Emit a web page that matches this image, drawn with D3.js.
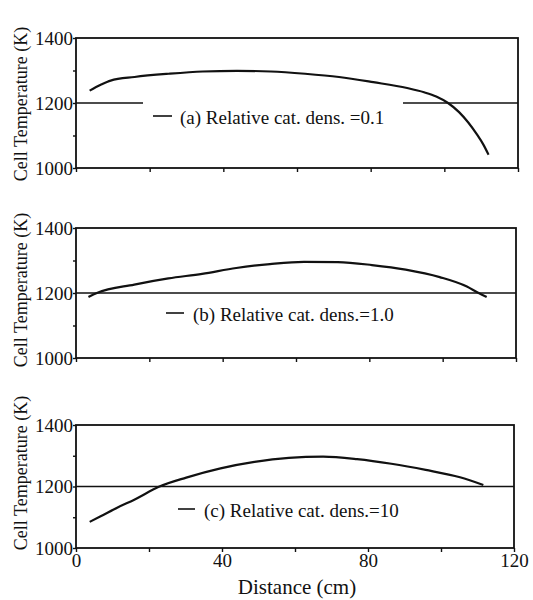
<!DOCTYPE html>
<html><head><meta charset="utf-8">
<script src="https://cdn.jsdelivr.net/npm/d3@7"></script>
<style>
body{margin:0;background:#fff;}
text{font-family:"Liberation Serif","Times New Roman",serif;fill:#111;}
</style></head>
<body><svg id="c" width="533" height="600"></svg>
<script>
// ---- data ----
const xTickValues = [0, 20, 40, 60, 80, 100, 120];
const xTickLabels = ["0", "", "40", "", "80", "", "120"];
const yTickValues = [1000, 1100, 1200, 1300, 1400];
const yTickLabels = ["1000", "", "1200", "", "1400"];
const panelLabels = ["(a) Relative cat. dens. =0.1", "(b) Relative cat. dens.=1.0", "(c) Relative cat. dens.=10"];
const refLevel = 1200;

const distA = [3.7, 6.7, 9.4, 15.9, 25.2, 34.4, 43.7, 52.9, 62.2, 71.4, 80.7, 89.9, 94.5, 97.8, 101, 104, 106.5, 108.8, 110.6, 112];
const tempA = [1238, 1256, 1269, 1280, 1290, 1297, 1299, 1297, 1290, 1280, 1264, 1246, 1233, 1220, 1200, 1172, 1140, 1104, 1072, 1041];

const distB = [3.4, 5.7, 15.9, 25.2, 34.4, 43.7, 52.9, 62.2, 71.4, 80.7, 89.9, 99.2, 106.6, 109.8, 112];
const tempB = [1188, 1200, 1226, 1245, 1259, 1277, 1289, 1296, 1295, 1286, 1272, 1249, 1220, 1200, 1188];

const distC = [3.75, 6.75, 11.4, 16.1, 22.7, 30.2, 39.6, 48.9, 58.3, 67.7, 77, 86.4, 95.8, 105.2, 111.6];
const tempC = [1085, 1103, 1132, 1158, 1199, 1229, 1259, 1280, 1293, 1297, 1289, 1274, 1254, 1230, 1205];

// ---- layout ----
const FS = "19px";
const svg = d3.select("#c");
const panels = [
  {dist: distA, temp: tempA, x0: 76, x1: 518, y0: 38, y1: 168, leg: {lx: 153, lx2: 172, ly: 116, tx: 180, ty: 124}, gap: [143, 403], ylab: 104},
  {dist: distB, temp: tempB, x0: 76, x1: 516, y0: 228, y1: 358, leg: {lx: 166, lx2: 184, ly: 313, tx: 193, ty: 321}, gap: null, ylab: 290},
  {dist: distC, temp: tempC, x0: 76, x1: 514, y0: 425, y1: 548, leg: {lx: 178, lx2: 195, ly: 509, tx: 204, ty: 517}, gap: null, ylab: 473}
];

panels.forEach((p, i) => {
  const x = d3.scaleLinear().domain([0, 120]).range([p.x0, p.x1]);
  const y = d3.scaleLinear().domain([1000, 1400]).range([p.y1, p.y0]);
  const g = svg.append("g");

  // frame
  g.append("rect").attr("x", p.x0).attr("y", p.y0).attr("width", p.x1 - p.x0).attr("height", p.y1 - p.y0)
    .attr("fill", "none").attr("stroke", "#111").attr("stroke-width", 1.8);

  // y axis
  const ya = d3.axisLeft(y).tickValues(yTickValues).tickSize(3).tickPadding(0)
    .tickFormat((d, k) => yTickLabels[k]);
  const yg = g.append("g").attr("transform", `translate(${p.x0},0)`).call(ya);
  yg.select(".domain").remove();
  yg.selectAll("line").attr("stroke", "#111").attr("stroke-width", 1.4);
  yg.selectAll("text").style("font-size", FS).style("font-family", '"Liberation Serif",serif').attr("fill", "#111");

  // x axis
  const xa = d3.axisBottom(x).tickValues(xTickValues).tickSize(4).tickPadding(2)
    .tickFormat((d, k) => i === 2 ? xTickLabels[k] : "");
  const xg = g.append("g").attr("transform", `translate(0,${p.y1})`).call(xa);
  xg.select(".domain").remove();
  xg.selectAll("line").attr("stroke", "#111").attr("stroke-width", 1.4);
  xg.selectAll("text").style("font-size", FS).style("font-family", '"Liberation Serif",serif').attr("fill", "#111");

  // reference line at 1200
  const ry = y(refLevel);
  if (p.gap) {
    g.append("line").attr("x1", p.x0).attr("x2", p.gap[0]).attr("y1", ry).attr("y2", ry).attr("stroke", "#111").attr("stroke-width", 1.4);
    g.append("line").attr("x1", p.gap[1]).attr("x2", p.x1).attr("y1", ry).attr("y2", ry).attr("stroke", "#111").attr("stroke-width", 1.4);
  } else {
    g.append("line").attr("x1", p.x0).attr("x2", p.x1).attr("y1", ry).attr("y2", ry).attr("stroke", "#111").attr("stroke-width", 1.4);
  }

  // curve
  const pts = p.dist.map((d, k) => [d, p.temp[k]]);
  const line = d3.line().x(d => x(d[0])).y(d => y(d[1])).curve(d3.curveMonotoneX);
  g.append("path").attr("d", line(pts)).attr("fill", "none").attr("stroke", "#111").attr("stroke-width", 2.2);

  // legend
  g.append("line").attr("x1", p.leg.lx).attr("x2", p.leg.lx2).attr("y1", p.leg.ly).attr("y2", p.leg.ly).attr("stroke", "#111").attr("stroke-width", 1.6);
  g.append("text").attr("x", p.leg.tx).attr("y", p.leg.ty).style("font-size", FS).text(panelLabels[i]);

  // y label
  g.append("text").attr("transform", `translate(27,${p.ylab}) rotate(-90)`).attr("text-anchor", "middle")
    .style("font-size", "18px").text("Cell Temperature (K)");
});

svg.append("text").attr("x", 297).attr("y", 594).attr("text-anchor", "middle").style("font-size", "21px").text("Distance (cm)");
</script></body></html>
